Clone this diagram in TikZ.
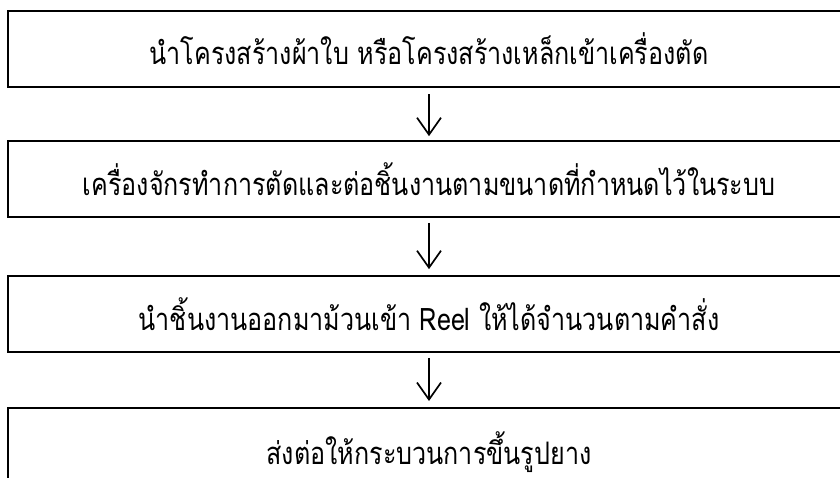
\documentclass[tikz,border=0pt]{standalone}
\usepackage{fontspec}
\newfontfamily\thaifont[Script=Thai,FakeStretch=0.81]{Loma}
\usetikzlibrary{arrows.meta}
\tikzset{
  steptext/.style={inner sep=0pt, font=\thaifont\fontsize{31}{36}\selectfont},
  stepbox/.style={steptext, draw=black, line width=1.7pt, minimum width=842pt},
  thickbox/.style={stepbox, line width=2.3pt},
  thickline/.style={draw=black, line width=2.3pt},
  flowarrow/.style={draw=black, line width=1.7pt, -{Straight Barb[length=17pt,width=24pt,line width=1.7pt]}}
}
\begin{document}
\begin{tikzpicture}[x=1pt,y=-1pt]
\useasboundingbox (0,0) rectangle (840,478);
\clip (0,0) rectangle (840,478);
\node[thickbox, minimum height=76pt] (b1) at (429,49) {นำโครงสร้างผ้าใบ หรือโครงสร้างเหล็กเข้าเครื่องตัด};
\node[stepbox, minimum height=76pt] (b2) at (429,179) {เครื่องจักรทำการตัดและต่อชิ้นงานตามขนาดที่กำหนดไว้ในระบบ};
\node[stepbox, minimum height=76pt] (b3) at (429,314) {นำชิ้นงานออกมาม้วนเข้า Reel ให้ได้จำนวนตามคำสั่ง};
\coordinate (b4top) at (429,408);
\coordinate (b4left) at (8,490);
\coordinate (b4right) at (850,408);
\draw[thickline] (b4left) |- (b4right);
\node[steptext] (b4) at (429,452) {ส่งต่อให้กระบวนการขึ้นรูปยาง};
\draw[flowarrow, shorten <=6pt, shorten >=4pt] (b1.south) -- (b2.north);
\draw[flowarrow, shorten <=5pt, shorten >=6pt] (b2.south) -- (b3.north);
\draw[flowarrow, shorten <=5pt, shorten >=7pt] (b3.south) -- (b4top);
\end{tikzpicture}
\end{document}
